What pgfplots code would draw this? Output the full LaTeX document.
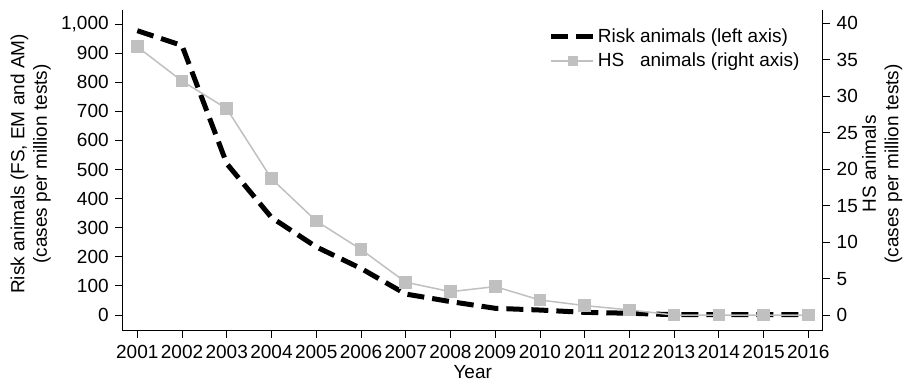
\documentclass[border=0pt]{standalone}
\usepackage{pgfplots}
\pgfplotsset{compat=1.18}
\usepackage{fontspec}
\setmainfont{Liberation Sans}

\definecolor{hsgray}{RGB}{192,192,192}

% Cases per million tests
\pgfplotstableread{
year risk
2001 977
2002 926
2003 520
2004 335
2005 234
2006 160
2007 72
2008 46
2009 23
2010 17
2011 9
2012 6
2013 1
2014 1
2015 1
2016 1
}\risktable

\pgfplotstableread{
year hs
2001 36.8
2002 32.1
2003 28.3
2004 18.7
2005 12.9
2006 9.0
2007 4.5
2008 3.2
2009 3.9
2010 2.06
2011 1.3
2012 0.7
2013 0
2014 0
2015 0
2016 0
}\hstable

\pgfplotsset{
  riskstyle/.style={black, line width=5pt, dash pattern=on 17pt off 8pt, line join=round},
  hsstyle/.style={hsgray, line width=1.5pt, mark=square*, mark size=5.8pt,
    mark options={solid, fill=hsgray, draw=hsgray, line width=0pt}},
  common/.style={scale only axis, width=700pt, height=320.7pt,
    xmin=2000.674, xmax=2016.32,
    tick align=outside, major tick length=7.5pt,
    axis line style={line width=0.8pt, black},
    tick style={line width=0.8pt, black},
    /pgf/number format/assume math mode=true},
}

\begin{document}
\fontsize{19}{22.5}\selectfont
\begin{tikzpicture}
\begin{axis}[common, name=ax,
  axis x line*=bottom, axis y line*=left,
  ymin=-54, ymax=1048,
  ytick={0,100,...,1000},
  xtick={2001,...,2016},
  xticklabel style={/pgf/number format/1000 sep={}},
  yticklabel style={/pgf/number format/1000 sep={,}},
  xlabel={Year},
  xlabel style={at={(axis description cs:0.5,-0.128)}, anchor=center},
  ylabel={Risk animals (FS, EM and AM)\\(cases per million tests)},
  ylabel style={align=center, at={(axis description cs:-0.1315,0.52)}, anchor=center},
]
\addplot[riskstyle] table[x=year, y=risk] {\risktable};
\end{axis}
\begin{axis}[common,
  axis x line=none, axis y line*=right,
  ymin=-2.15, ymax=41.84,
  ytick={0,5,...,40},
  ylabel={HS animals\\(cases per million tests)},
  ylabel style={align=center, at={(axis description cs:1.085,0.52)}, anchor=center},
  legend style={draw=none, fill=none, at={(axis description cs:0.6085,0.95)}, anchor=north west,
    inner sep=0pt, row sep=4pt, nodes={inner sep=2pt}},
  legend cell align=left,
]
\addlegendimage{legend image code/.code={\draw[black, line width=5pt, dash pattern=on 17pt off 8pt] (0pt,0pt) -- (42pt,0pt);}}
\addlegendentry{Risk animals (left axis)}
\addplot[hsstyle, legend image code/.code={\draw[hsgray, line width=1.5pt] (0pt,0pt) -- (42pt,0pt); \fill[hsgray] (17pt,-4.5pt) rectangle (26pt,4.5pt);}]
  table[x=year, y=hs] {\hstable};
\addlegendentry{HS\ \ \ animals (right axis)}
\end{axis}
\pgfresetboundingbox
\path ([shift={(-122.7pt,-50.3pt)}]ax.south west) rectangle ([shift={(80.3pt,10pt)}]ax.north east);
\end{tikzpicture}
\end{document}
